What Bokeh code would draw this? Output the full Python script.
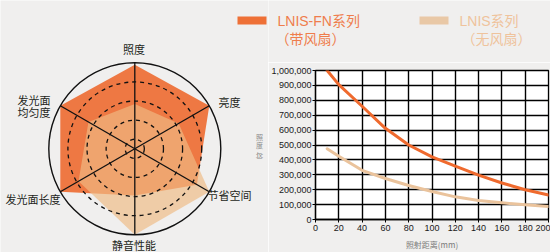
import math
from bokeh.plotting import figure
from bokeh.layouts import row, column
from bokeh.models import NumeralTickFormatter, FixedTicker, Range1d
from bokeh.core.properties import value
from bokeh.embed import file_html
from bokeh.resources import INLINE

# ---------------- data ----------------
radar_categories = ["照度", "亮度", "节省空间", "静音性能", "发光面长度", "发光面\n均匀度"]
radar_angles_deg = [90, 30, -30, -90, -150, 150]
fn_scores = [8.8, 9.0, 7.5, 4.9, 9.0, 9.0]
lnis_scores = [4.7, 5.3, 9.0, 9.0, 6.8, 5.6]
radar_max = 9
radar_rings = [1, 3, 5, 7]

distance_mm = [10, 20, 40, 60, 80, 100, 120, 140, 160, 180, 200]
fn_lux = [1000000, 905000, 760000, 612000, 500000, 420000, 358000, 298000, 245000, 200000, 165000]
lnis_lux = [475000, 425000, 330000, 275000, 228000, 188000, 152000, 128000, 112000, 99000, 88000]
x_ticks = [0, 20, 40, 60, 80, 100, 120, 140, 160, 180, 200]
y_ticks = [0, 100000, 200000, 300000, 400000, 500000, 600000, 700000, 800000, 900000, 1000000]
series_names = ["LNIS-FN系列", "LNIS系列"]
series_notes = ["（带风扇）", "（无风扇）"]
y_title_parts = ["照", "度", "︵", "lx", "︶"]
x_title = "照射距离(mm)"

# ---------------- style ----------------
BG = "#f0efee"
ORANGE = "#ee7843"
TAN = "#eebb83"
SWATCH = ["#ee7036", "#e9c8a6"]
NAME_COLORS = ["#ef7d4c", "#efc39c"]
CJK = "Noto Sans CJK SC"
TOTAL_H = 252
W_RADAR = 268
W_RIGHT = 282
H_LEG = 62
R_PX = 86.0
K = R_PX / radar_max            # px per radar unit
CX, CY = 134.3, 148.3           # radar centre (px from top-left)

def rad_pt(px, py):
    """page pixel -> radar data units"""
    return (px - CX) / K, (CY - py) / K

def base_fig(**kw):
    f = figure(output_backend="svg", toolbar_location=None, title=None, **kw)
    f.frame_align = False
    return f

# ---------------- radar ----------------
rp = base_fig(width=W_RADAR, height=TOTAL_H, x_range=Range1d(-CX / K, (W_RADAR - CX) / K),
              y_range=Range1d(-(TOTAL_H - CY) / K, CY / K), min_border=0,
              x_axis_type=None, y_axis_type=None,
              background_fill_color=BG, border_fill_color=BG, outline_line_color=None)
rp.grid.visible = False

ang = [math.radians(a) for a in radar_angles_deg]
fn_x = [s * math.cos(a) for s, a in zip(fn_scores, ang)]
fn_y = [s * math.sin(a) for s, a in zip(fn_scores, ang)]
ln_x = [s * math.cos(a) for s, a in zip(lnis_scores, ang)]
ln_y = [s * math.sin(a) for s, a in zip(lnis_scores, ang)]
rp.patch(fn_x, fn_y, fill_color=ORANGE, line_color=None)
rp.patch(ln_x, ln_y, fill_color=TAN, fill_alpha=0.67, line_color=None)

rp.circle(x=[0] * len(radar_rings), y=[0] * len(radar_rings), radius=radar_rings,
          fill_color=None, line_color="#111111", line_width=1.3, line_dash="4 4")
rp.circle(x=[0], y=[0], radius=[radar_max], fill_color=None, line_color="#111111", line_width=1.4)
rp.segment(x0=[0] * 6, y0=[0] * 6, x1=[radar_max * math.cos(a) for a in ang],
           y1=[radar_max * math.sin(a) for a in ang], line_color="#111111", line_width=1.3)

# label anchors on the page (px) and their alignment
label_anchor = [(133.5, 48.0, "center"), (218.0, 101.5, "left"), (207.0, 194.0, "left"),
                (133.5, 244.0, "center"), (60.0, 198.0, "right"), (50.0, 105.5, "right")]
for cat, (px, py, al) in zip(radar_categories, label_anchor):
    lx, ly = rad_pt(px, py)
    rp.text(x=[lx], y=[ly], text=[cat], text_align=al, text_baseline="middle",
            text_font=value(CJK), text_font_size="11px", text_color="#231f20",
            text_line_height=0.78)

# legend swatch of the first series
sx, sy = rad_pt(251.5, 20)
rp.rect(x=[sx], y=[sy], width=29, height=8, width_units="screen", height_units="screen",
        fill_color=SWATCH[0], line_color=None)

# stacked vertical y-axis title of the line chart
y_title_pos = [136.3, 144.8, 150.3, 154.6, 159.8]
for t, py in zip(y_title_parts, y_title_pos):
    tx, ty = rad_pt(259.0, py)
    rp.text(x=[tx], y=[ty], text=[t], text_align="center", text_baseline="middle",
            text_font=value(CJK), text_font_size="7px", text_color="#8c8c8c")

# ---------------- legend strip (page px coordinates) ----------------
lf = base_fig(width=W_RIGHT, height=H_LEG, x_range=Range1d(W_RADAR, W_RADAR + W_RIGHT),
              y_range=Range1d(H_LEG, 0), min_border=0, x_axis_type=None, y_axis_type=None,
              background_fill_color=BG, border_fill_color=BG, outline_line_color=None)
lf.grid.visible = False
name_pos = [(277, 20), (459, 20)]
note_pos = [(275, 37.5), (461, 37.5)]
for nm, note, col, (nx, ny), (tx, ty) in zip(series_names, series_notes, NAME_COLORS, name_pos, note_pos):
    lf.text(x=[nx], y=[ny], text=[nm], text_align="left", text_baseline="middle",
            text_font=value("Liberation Sans, Noto Sans CJK SC"), text_font_size="14px", text_color=col)
    lf.text(x=[tx], y=[ty], text=[note], text_align="left", text_baseline="middle",
            text_font=value(CJK), text_font_size="14px", text_color=col)
lf.rect(x=[433.5], y=[20], width=29, height=8, width_units="screen", height_units="screen",
        fill_color=SWATCH[1], line_color=None)

# ---------------- line chart ----------------
lp = base_fig(width=W_RIGHT, height=TOTAL_H - H_LEG, x_range=Range1d(0, 200), y_range=Range1d(0, 1000000),
              min_border_left=43, min_border_right=2, min_border_top=8, min_border_bottom=31,
              background_fill_color="white", border_fill_color=BG,
              outline_line_color="#000000", outline_line_width=1.3)
for g in (lp.xgrid, lp.ygrid):
    g.grid_line_color = "#000000"
    g.grid_line_width = 1.4
    g.grid_line_alpha = 1.0
lp.xgrid.ticker = FixedTicker(ticks=x_ticks)
lp.ygrid.ticker = FixedTicker(ticks=y_ticks)
lp.xaxis.ticker = FixedTicker(ticks=x_ticks)
lp.yaxis.ticker = FixedTicker(ticks=y_ticks)
lp.yaxis.formatter = NumeralTickFormatter(format="0,0")
for ax in (lp.xaxis, lp.yaxis):
    ax.minor_tick_line_color = None
    ax.major_tick_in = 0
    ax.major_tick_out = 3
    ax.major_tick_line_color = "#000000"
    ax.axis_line_color = "#000000"
    ax.axis_line_width = 1.3
    ax.major_label_text_font = "Liberation Sans"
    ax.major_label_text_font_size = "9px"
    ax.major_label_text_color = "#1a1a1a"
lp.xaxis.major_label_standoff = 2
lp.yaxis.major_label_standoff = 1
lp.xaxis.axis_label = x_title
lp.xaxis.axis_label_text_font = CJK
lp.xaxis.axis_label_text_font_size = "8px"
lp.xaxis.axis_label_text_font_style = "normal"
lp.xaxis.axis_label_text_color = "#7a7a7a"
lp.xaxis.axis_label_standoff = 5

lp.line(distance_mm, fn_lux, line_color="#ef6a2e", line_width=3, line_join="round", line_cap="round")
lp.line(distance_mm, lnis_lux, line_color="#eac39c", line_width=3, line_join="round", line_cap="round")

layout = row(rp, column(lf, lp, spacing=0), spacing=0)
html = file_html(layout, INLINE)
html = html.replace("<body>", '<body style="background:%s">' % BG, 1)
open("out.html", "w").write(html)
